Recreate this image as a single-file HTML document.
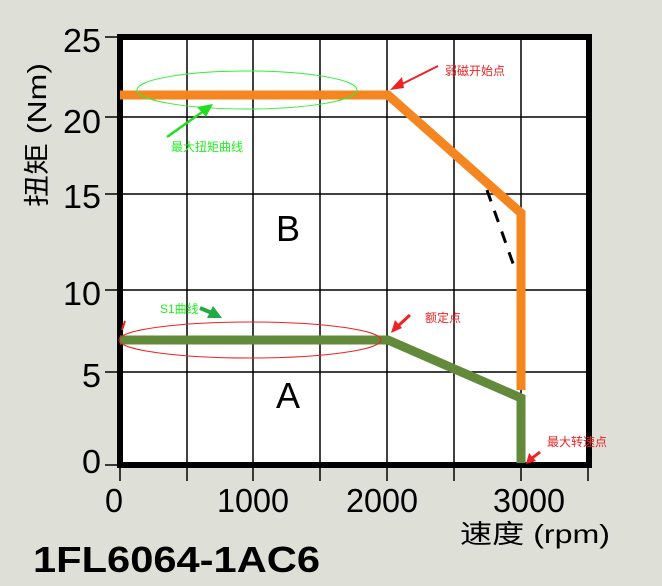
<!DOCTYPE html>
<html><head><meta charset="utf-8"><style>
html,body{margin:0;padding:0;background:#dedfd7;}
svg{display:block;}
</style></head><body>
<svg width="662" height="586" viewBox="0 0 662 586" xmlns="http://www.w3.org/2000/svg">
<rect width="662" height="586" fill="#dedfd7"/>
<rect x="120" y="37" width="469" height="428" fill="#fff"/>
<g stroke="#000" stroke-width="1.5">
<line x1="187" y1="37" x2="187" y2="481"/>
<line x1="253" y1="37" x2="253" y2="481"/>
<line x1="320" y1="37" x2="320" y2="481"/>
<line x1="387" y1="37" x2="387" y2="481"/>
<line x1="454" y1="37" x2="454" y2="481"/>
<line x1="521" y1="37" x2="521" y2="481"/>
<line x1="588" y1="465" x2="588" y2="481"/>
<line x1="120" y1="465" x2="120" y2="481"/>
<line x1="105" y1="117" x2="589" y2="117"/>
<line x1="105" y1="194" x2="589" y2="194"/>
<line x1="105" y1="290" x2="589" y2="290"/>
<line x1="105" y1="372" x2="589" y2="372"/>
<line x1="105" y1="37" x2="120" y2="37"/>
<line x1="105" y1="465" x2="120" y2="465"/>
</g>
<rect x="120" y="37" width="469" height="428" fill="none" stroke="#000" stroke-width="6"/>
<!-- dashed -->
<path d="M487 190 L516 272" stroke="#000" stroke-width="3" stroke-dasharray="12 10" fill="none"/>
<!-- orange -->
<polyline points="120,95 388,95 521,213 521,390" fill="none" stroke="#f5861f" stroke-width="9" stroke-linejoin="miter"/>
<!-- green -->
<polyline points="120,340 388,340 521,398 521,463" fill="none" stroke="#638a3b" stroke-width="9"/>
<!-- ellipses -->
<ellipse cx="247" cy="90" rx="110" ry="19" fill="none" stroke="#33ee33" stroke-width="1"/>
<ellipse cx="250" cy="340" rx="131" ry="18" fill="none" stroke="#ee2222" stroke-width="1"/>
<line x1="122" y1="330" x2="125" y2="321" stroke="#ee2222" stroke-width="2"/>
<!-- arrows -->
<g fill="#ee2222" stroke="#ee2222">
<line x1="438" y1="66" x2="400" y2="85" stroke-width="2"/>
<polygon points="390,90 402,77 404,88" stroke="none"/>
<line x1="410" y1="315" x2="398" y2="326" stroke-width="3"/>
<polygon points="391,333 395,320 402,328" stroke="none"/>
<line x1="540" y1="452" x2="531" y2="459" stroke-width="3"/>
<polygon points="526,464 529,453 536,461" stroke="none"/>
</g>
<g fill="#22dd22" stroke="#22dd22">
<line x1="167" y1="137" x2="205" y2="110" stroke-width="2.5"/>
<polygon points="213,104 197,107 206,117" stroke="none"/>
</g>
<g fill="#22aa44" stroke="#22aa44">
<line x1="200" y1="308" x2="212" y2="313" stroke-width="4"/>
<polygon points="222,318 207,318 213,306" stroke="none"/>
</g>
<g font-family="'Liberation Sans','Noto Sans CJK SC',sans-serif">
<text x="445" y="75" font-size="12" fill="#ee2222">弱磁开始点</text>
<text x="171" y="151" font-size="12" fill="#22ee22">最大扭矩曲线</text>
<text x="160" y="313" font-size="12" fill="#22ee22">S1曲线</text>
<text x="425" y="322" font-size="12" fill="#ee2222">额定点</text>
<text x="547" y="446" font-size="12" fill="#ee2222">最大转速点</text>
<text x="288" y="241" font-size="36" text-anchor="middle" fill="#000">B</text>
<text x="288" y="408" font-size="36" text-anchor="middle" fill="#000">A</text>
<g font-size="33" fill="#000" text-anchor="end">
<text x="101" y="52" textLength="38" lengthAdjust="spacingAndGlyphs">25</text>
<text x="101" y="133" textLength="38" lengthAdjust="spacingAndGlyphs">20</text>
<text x="101" y="208" textLength="38" lengthAdjust="spacingAndGlyphs">15</text>
<text x="101" y="305" textLength="38" lengthAdjust="spacingAndGlyphs">10</text>
<text x="101" y="387" textLength="19" lengthAdjust="spacingAndGlyphs">5</text>
<text x="101" y="473" textLength="19" lengthAdjust="spacingAndGlyphs">0</text>
</g>
<g font-size="33" fill="#000">
<text x="105" y="512" textLength="18" lengthAdjust="spacingAndGlyphs">0</text>
<text x="217" y="512" textLength="72" lengthAdjust="spacingAndGlyphs">1000</text>
<text x="346" y="512" textLength="72" lengthAdjust="spacingAndGlyphs">2000</text>
<text x="493" y="512" textLength="72" lengthAdjust="spacingAndGlyphs">3000</text>
</g>
<text x="460" y="543" font-size="26" fill="#000" textLength="150" lengthAdjust="spacingAndGlyphs">速度 (rpm)</text>
<text transform="translate(46,207) rotate(-90)" font-size="26" fill="#000" textLength="144" lengthAdjust="spacingAndGlyphs">扭矩 (Nm)</text>
<text x="33" y="572" font-size="36" font-weight="bold" fill="#000" textLength="287" lengthAdjust="spacingAndGlyphs">1FL6064-1AC6</text>
</g>
</svg>
</body></html>
